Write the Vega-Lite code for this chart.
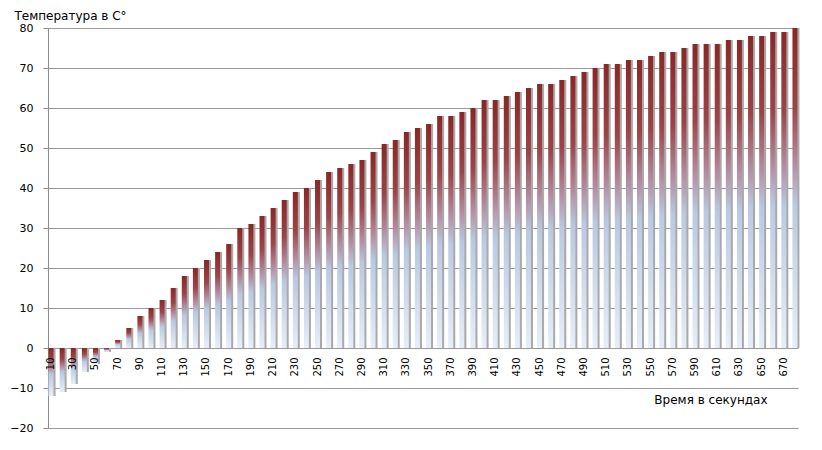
{
  "$schema": "https://vega.github.io/schema/vega-lite/v6.json",
  "width": 750,
  "height": 400,
  "autosize": "none",
  "padding": {"left": 48, "top": 28, "right": 24, "bottom": 22},
  "background": "white",
  "config": {
    "view": {"stroke": null},
    "font": "DejaVu Sans"
  },
  "data": {
    "values": [
      {"t":10,"v":-12},{"t":20,"v":-11},{"t":30,"v":-9},{"t":40,"v":-6},{"t":50,"v":-4},
      {"t":60,"v":-1},{"t":70,"v":2},{"t":80,"v":5},{"t":90,"v":8},{"t":100,"v":10},
      {"t":110,"v":12},{"t":120,"v":15},{"t":130,"v":18},{"t":140,"v":20},{"t":150,"v":22},
      {"t":160,"v":24},{"t":170,"v":26},{"t":180,"v":30},{"t":190,"v":31},{"t":200,"v":33},
      {"t":210,"v":35},{"t":220,"v":37},{"t":230,"v":39},{"t":240,"v":40},{"t":250,"v":42},
      {"t":260,"v":44},{"t":270,"v":45},{"t":280,"v":46},{"t":290,"v":47},{"t":300,"v":49},
      {"t":310,"v":51},{"t":320,"v":52},{"t":330,"v":54},{"t":340,"v":55},{"t":350,"v":56},
      {"t":360,"v":58},{"t":370,"v":58},{"t":380,"v":59},{"t":390,"v":60},{"t":400,"v":62},
      {"t":410,"v":62},{"t":420,"v":63},{"t":430,"v":64},{"t":440,"v":65},{"t":450,"v":66},
      {"t":460,"v":66},{"t":470,"v":67},{"t":480,"v":68},{"t":490,"v":69},{"t":500,"v":70},
      {"t":510,"v":71},{"t":520,"v":71},{"t":530,"v":72},{"t":540,"v":72},{"t":550,"v":73},
      {"t":560,"v":74},{"t":570,"v":74},{"t":580,"v":75},{"t":590,"v":76},{"t":600,"v":76},
      {"t":610,"v":76},{"t":620,"v":77},{"t":630,"v":77},{"t":640,"v":78},{"t":650,"v":78},
      {"t":660,"v":79},{"t":670,"v":79},{"t":680,"v":80}
    ]
  },
  "encoding": {
    "x": {
      "field": "t",
      "type": "ordinal",
      "scale": {"paddingInner": 0.55, "paddingOuter": 0.05},
      "axis": {
        "values": [10,30,50,70,90,110,130,150,170,190,210,230,250,270,290,310,330,350,370,390,410,430,450,470,490,510,530,550,570,590,610,630,650,670],
        "offset": -80,
        "zindex": 1,
        "domain": false,
        "ticks": false,
        "labelAngle": -90,
        "labelPadding": 9,
        "labelFontSize": 10,
        "labelColor": "#000000",
        "labelFont": "DejaVu Sans",
        "title": "Время в секундах",
        "titleFont": "DejaVu Sans",
        "titleFontSize": 12,
        "titleFontWeight": "normal",
        "titleColor": "#000000",
        "titleAnchor": "end",
        "titleAlign": "right",
        "titleBaseline": "alphabetic",
        "titleX": 719,
        "titleY": 55
      }
    },
    "y": {
      "field": "v",
      "type": "quantitative",
      "scale": {"domain": [-20, 80], "nice": false},
      "axis": {
        "values": [-20,-10,0,10,20,30,40,50,60,70,80],
        "grid": true,
        "gridColor": "#9a9a9a",
        "gridWidth": 1,
        "domainColor": "#8c8c8c",
        "tickColor": "#8c8c8c",
        "tickSize": 5,
        "labelPadding": 10,
        "labelFontSize": 11,
        "labelColor": "#000000",
        "labelFont": "DejaVu Sans",
        "title": "Температура в С°",
        "titleFont": "DejaVu Sans",
        "titleFontSize": 12,
        "titleFontWeight": "normal",
        "titleColor": "#000000",
        "titleAngle": 0,
        "titleAlign": "left",
        "titleAnchor": "start",
        "titleBaseline": "alphabetic",
        "titleX": -34,
        "titleY": -9
      }
    }
  },
  "layer": [
    {
      "mark": {"type": "bar", "color": "#a9a9a9", "xOffset": 2}
    },
    {
      "mark": {
        "type": "bar",
        "color": {
          "gradient": "linear",
          "x1": 0, "y1": 0, "x2": 0, "y2": 1,
          "stops": [
            {"offset": 0, "color": "#8a2727"},
            {"offset": 0.25, "color": "#9c4448"},
            {"offset": 0.42, "color": "#b48a9e"},
            {"offset": 0.55, "color": "#b9c9e2"},
            {"offset": 1, "color": "#e8eef8"}
          ]
        }
      }
    }
  ]
}
